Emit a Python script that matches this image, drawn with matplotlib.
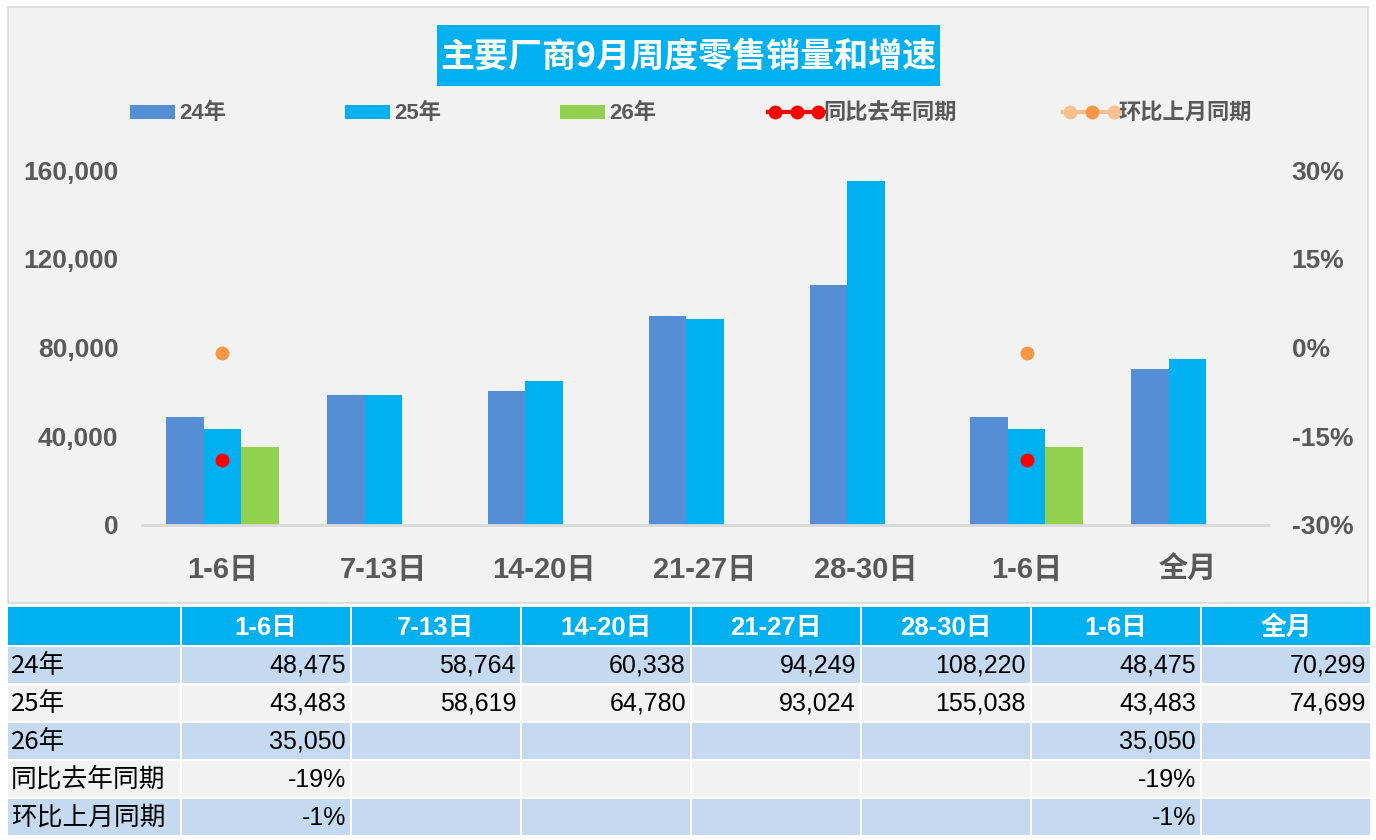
import numpy as np
import matplotlib
matplotlib.use("Agg")
import matplotlib.pyplot as plt
from matplotlib.patches import Rectangle
from matplotlib.lines import Line2D
from matplotlib.ticker import FuncFormatter, FixedLocator
import matplotlib.font_manager as fm

# ---------------- data ----------------
categories = ['1-6日', '7-13日', '14-20日', '21-27日', '28-30日', '1-6日', '全月']
sales_24 = [48475, 58764, 60338, 94249, 108220, 48475, 70299]
sales_25 = [43483, 58619, 64780, 93024, 155038, 43483, 74699]
sales_26 = [35050, np.nan, np.nan, np.nan, np.nan, 35050, np.nan]
yoy = [-0.19, np.nan, np.nan, np.nan, np.nan, -0.19, np.nan]
mom = [-0.01, np.nan, np.nan, np.nan, np.nan, -0.01, np.nan]
series_names = ['24年', '25年', '26年', '同比去年同期', '环比上月同期']
title = '主要厂商9月周度零售销量和增速'
left_ticks = [0, 40000, 80000, 120000, 160000]
right_ticks = [-0.30, -0.15, 0.0, 0.15, 0.30]

# ---------------- style ----------------
C24 = '#558ED5'
C25 = '#00B0F0'
C26 = '#92D050'
CRED = '#FF0000'
CORG = '#F79646'
CORG_L = '#FAC090'
GRAY = '#595959'
BG = '#F2F2F2'
ROWBLUE = '#C5D9F1'

names = {f.name for f in fm.fontManager.ttflist}
num_fam = [f for f in ['Liberation Sans Narrow', 'Liberation Sans', 'DejaVu Sans'] if f in names]
FAM = num_fam + ['Noto Sans CJK SC']
plt.rcParams['font.family'] = FAM

W, H = 1376, 840
fig = plt.figure(figsize=(W / 100, H / 100), dpi=100)
fig.patch.set_facecolor('white')

# overlay axes in pixel coordinates
ov = fig.add_axes([0, 0, 1, 1], zorder=0)
ov.set_xlim(0, W)
ov.set_ylim(H, 0)
ov.axis('off')

# chart background
ov.add_patch(Rectangle((8, 7), 1360, 596, facecolor=BG, edgecolor='#D9D9D9', lw=1.2))

# title box
ov.add_patch(Rectangle((437, 25), 503, 61, facecolor=C25, edgecolor='none'))
ov.text(688, 56, title, color='white', fontsize=24.5, fontweight='bold',
        ha='center', va='center', family=['Noto Sans CJK SC'])

# legend
ly = 112
leg_fs = 16
for x0, col, name in [(130, C24, series_names[0]), (345, C25, series_names[1]), (560, C26, series_names[2])]:
    ov.add_patch(Rectangle((x0, ly - 7), 45, 14, facecolor=col, edgecolor='none'))
    ov.text(x0 + 49, ly + 1, name, color=GRAY, fontsize=leg_fs, fontweight='bold', ha='left', va='center')
ov.add_line(Line2D([768, 825], [ly, ly], color=CRED, lw=3))
ov.plot([775, 797, 818], [ly, ly, ly], 'o', color=CRED, ms=10, mec='none')
ov.text(823, ly + 1, series_names[3], color=GRAY, fontsize=leg_fs, fontweight='bold', ha='left', va='center')
ov.add_line(Line2D([1063, 1120], [ly, ly], color=CORG_L, lw=3))
ov.plot([1070, 1114], [ly, ly], 'o', color=CORG_L, ms=10, mec='none')
ov.plot([1092], [ly], 'o', color=CORG, ms=10, mec='none')
ov.text(1118, ly + 1, series_names[4], color=GRAY, fontsize=leg_fs, fontweight='bold', ha='left', va='center')

# ---------------- main chart ----------------
px0, px1, py0, py1 = 142, 1268, 170, 525
ax = fig.add_axes([px0 / W, (H - py1) / H, (px1 - px0) / W, (py1 - py0) / H], zorder=2)
ax.set_facecolor('none')
n = len(categories)
x = np.arange(n)
bw = 0.233
ax.bar(x - bw, sales_24, bw, color=C24, zorder=2)
ax.bar(x, sales_25, bw, color=C25, zorder=2)
ax.bar(x + bw, sales_26, bw, color=C26, zorder=2)
ax.set_xlim(-0.5, n - 0.5)
ax.set_ylim(0, 160000)
ax.yaxis.set_major_locator(FixedLocator(left_ticks))
ax.yaxis.set_major_formatter(FuncFormatter(lambda v, p: f'{int(v):,}'))
ax.set_xticks(x)
ax.set_xticklabels(categories)
for s in ['top', 'left', 'right']:
    ax.spines[s].set_visible(False)
ax.spines['bottom'].set_color('#D9D9D9')
ax.spines['bottom'].set_linewidth(2)
ax.tick_params(axis='both', length=0)
ax.tick_params(axis='y', pad=17, labelsize=19, labelcolor=GRAY)
ax.tick_params(axis='x', pad=22, labelsize=21, labelcolor=GRAY)
for lab in ax.get_yticklabels() + ax.get_xticklabels():
    lab.set_fontweight('bold')

ax2 = ax.twinx()
ax2.set_ylim(-0.30, 0.30)
ax2.yaxis.set_major_locator(FixedLocator(right_ticks))
ax2.yaxis.set_major_formatter(FuncFormatter(lambda v, p: f'{v * 100:.0f}%'))
for s in ['top', 'left', 'right', 'bottom']:
    ax2.spines[s].set_visible(False)
ax2.tick_params(axis='y', length=0, pad=17, labelsize=19, labelcolor=GRAY)
for lab in ax2.get_yticklabels():
    lab.set_fontweight('bold')
ax2.plot(x, yoy, 'o', color=CRED, ms=10, mec='none', zorder=3)
ax2.plot(x, mom, 'o', color=CORG, ms=10, mec='none', zorder=3)

# ---------------- table ----------------
first_x, first_w = 8, 172
col_x0, col_w, gap = 182, 168, 2
hdr_y, hdr_h = 607, 38
row_y0, row_h = 647, 36
row_colors = [ROWBLUE, BG, ROWBLUE, BG, ROWBLUE]
ov.add_patch(Rectangle((first_x, hdr_y), first_w, hdr_h, facecolor=C25, edgecolor='none'))
for j, cat in enumerate(categories):
    cx = col_x0 + j * (col_w + gap)
    ov.add_patch(Rectangle((cx, hdr_y), col_w, hdr_h, facecolor=C25, edgecolor='none'))
    ov.text(cx + col_w / 2, hdr_y + hdr_h / 2 + 2, cat, color='white', fontsize=18.5, fontweight='bold',
            ha='center', va='center')

def fmt_num(v):
    return '' if np.isnan(v) else f'{int(v):,}'

def fmt_pct(v):
    return '' if np.isnan(v) else f'{v * 100:.0f}%'

rows = [
    (series_names[0], [fmt_num(v) for v in sales_24]),
    (series_names[1], [fmt_num(v) for v in sales_25]),
    (series_names[2], [fmt_num(v) for v in sales_26]),
    (series_names[3], [fmt_pct(v) for v in yoy]),
    (series_names[4], [fmt_pct(v) for v in mom]),
]
for i, (label, vals) in enumerate(rows):
    ry = row_y0 + i * (row_h + gap)
    ov.add_patch(Rectangle((first_x, ry), first_w, row_h, facecolor=row_colors[i], edgecolor='none'))
    ov.text(first_x + 3, ry + row_h / 2 + 1, label, color='black', fontsize=18.5,
            ha='left', va='center', family=['Noto Sans CJK SC'])
    for j, v in enumerate(vals):
        cx = col_x0 + j * (col_w + gap)
        ov.add_patch(Rectangle((cx, ry), col_w, row_h, facecolor=row_colors[i], edgecolor='none'))
        if v:
            ov.text(cx + col_w - 4, ry + row_h / 2 + 1, v, color='black', fontsize=18,
                    ha='right', va='center')

fig.savefig('out.png', dpi=100, facecolor=fig.get_facecolor())
